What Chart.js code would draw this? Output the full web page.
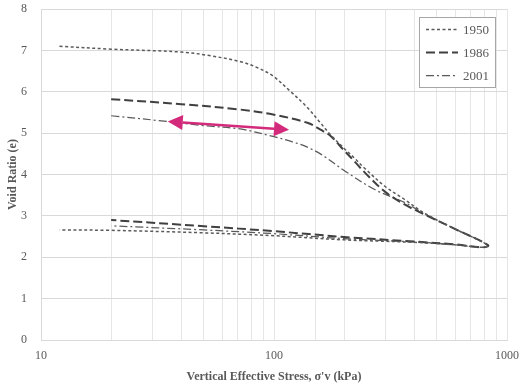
<!DOCTYPE html>
<html>
<head>
<meta charset="utf-8">
<script src="https://cdn.jsdelivr.net/npm/chart.js@4/dist/chart.umd.min.js"></script>
<style>
    html, body { margin: 0; padding: 0; background: #ffffff; }
    #wrap { width: 523px; height: 389px; }
</style>
</head>
<body>
<div id="wrap"><canvas id="voidChart" width="523" height="389"></canvas></div>
<script>
// Series labels
const seriesNames = ['1950', '1986', '2001'];

// Loading then unloading, stress in kPa
const stress1950 = [12, 20, 40, 52, 71.5, 85, 99, 117, 139, 157, 175, 200, 223, 246, 300, 365, 444, 600, 830, 790, 600, 400, 200, 100, 50, 20, 12];
const void1950 = [7.10, 7.03, 6.96, 6.88, 6.73, 6.58, 6.38, 6.02, 5.62, 5.27, 4.96, 4.63, 4.38, 4.14, 3.71, 3.39, 3.06, 2.68, 2.29, 2.24, 2.30, 2.36, 2.42, 2.52, 2.59, 2.65, 2.66];

const stress1986 = [20, 40, 71.5, 99, 139, 160, 175, 200, 223, 246, 300, 365, 444, 600, 830, 790, 600, 400, 200, 100, 50, 20];
const void1986 = [5.82, 5.70, 5.57, 5.45, 5.25, 5.07, 4.93, 4.58, 4.30, 4.04, 3.58, 3.27, 3.03, 2.68, 2.29, 2.24, 2.31, 2.38, 2.49, 2.63, 2.75, 2.90];

const stress2001 = [20, 35, 50, 71.5, 99, 120, 139, 160, 202, 272, 365, 444, 600, 830, 790, 600, 400, 200, 100, 50, 20];
const void2001 = [5.42, 5.28, 5.18, 5.10, 4.92, 4.79, 4.66, 4.48, 4.08, 3.63, 3.32, 3.04, 2.68, 2.29, 2.24, 2.30, 2.37, 2.45, 2.57, 2.66, 2.76];

// Arrow annotation ends (kPa, e)
const arrowStress = [35, 116];
const arrowVoid = [5.28, 5.08];

const serif = "'Liberation Serif', 'DejaVu Serif', serif";
const textGray = '#595959';

function toPoints(xs, ys) {
    return xs.map((x, i) => ({ x: x, y: ys[i] }));
}

// Legend in a box inside the plot
const boxLegend = {
    id: 'boxLegend',
    afterDraw(chart) {
        const ctx = chart.ctx;
        ctx.save();
        ctx.fillStyle = '#ffffff';
        ctx.fillRect(419, 17, 76, 70);
        ctx.strokeStyle = '#a6a6a6';
        ctx.lineWidth = 1;
        ctx.strokeRect(419.5, 17.5, 76, 70);
        chart.data.datasets.forEach((ds, i) => {
            const y = 29.5 + i * 23;
            ctx.beginPath();
            ctx.setLineDash(ds.borderDash);
            ctx.strokeStyle = ds.borderColor;
            ctx.lineWidth = ds.borderWidth;
            ctx.moveTo(426, y);
            ctx.lineTo(458, y);
            ctx.stroke();
            ctx.setLineDash([]);
            ctx.fillStyle = textGray;
            ctx.font = '13px ' + serif;
            ctx.textBaseline = 'middle';
            ctx.fillText(ds.label, 463, y + 1);
        });
        ctx.restore();
    }
};

// Double headed magenta arrow
const arrowPlugin = {
    id: 'arrowPlugin',
    afterDatasetsDraw(chart) {
        const ctx = chart.ctx;
        const xs = chart.scales.x, ys = chart.scales.y;
        const x1 = xs.getPixelForValue(arrowStress[0]), y1 = ys.getPixelForValue(arrowVoid[0]);
        const x2 = xs.getPixelForValue(arrowStress[1]), y2 = ys.getPixelForValue(arrowVoid[1]);
        const ang = Math.atan2(y2 - y1, x2 - x1);
        const headLen = 15, headHalf = 7.5;
        ctx.save();
        ctx.strokeStyle = '#d42a7b';
        ctx.fillStyle = '#d42a7b';
        ctx.lineWidth = 2.5;
        ctx.beginPath();
        ctx.moveTo(x1 + Math.cos(ang) * headLen, y1 + Math.sin(ang) * headLen);
        ctx.lineTo(x2 - Math.cos(ang) * headLen, y2 - Math.sin(ang) * headLen);
        ctx.stroke();
        [[x1, y1, ang], [x2, y2, ang + Math.PI]].forEach(([tx, ty, a]) => {
            const bx = tx + Math.cos(a) * headLen, by = ty + Math.sin(a) * headLen;
            ctx.beginPath();
            ctx.moveTo(tx, ty);
            ctx.lineTo(bx - Math.sin(a) * headHalf, by + Math.cos(a) * headHalf);
            ctx.lineTo(bx + Math.sin(a) * headHalf, by - Math.cos(a) * headHalf);
            ctx.closePath();
            ctx.fill();
        });
        ctx.restore();
    }
};

function initializeVoidChart() {
    const ctx = document.getElementById('voidChart');
    if (!ctx) return;

    return new Chart(ctx.getContext('2d'), {
        type: 'scatter',
        data: {
            datasets: [{
                label: seriesNames[0],
                data: toPoints(stress1950, void1950),
                borderColor: '#5a5a5a',
                borderWidth: 1.5,
                borderDash: [3, 2.5]
            }, {
                label: seriesNames[1],
                data: toPoints(stress1986, void1986),
                borderColor: '#404040',
                borderWidth: 2,
                borderDash: [9, 4]
            }, {
                label: seriesNames[2],
                data: toPoints(stress2001, void2001),
                borderColor: '#5a5a5a',
                borderWidth: 1.25,
                borderDash: [8, 3, 2, 3]
            }]
        },
        options: {
            responsive: false,
            animation: false,
            showLine: true,
            elements: {
                point: { radius: 0, hoverRadius: 0 },
                line: { tension: 0.35, fill: false }
            },
            layout: {
                padding: { top: 9, right: 16, left: 0, bottom: 0 }
            },
            plugins: {
                legend: { display: false },
                tooltip: { enabled: false }
            },
            scales: {
                x: {
                    type: 'logarithmic',
                    min: 10,
                    max: 1000,
                    afterFit: (scale) => {
                        scale.height = 49;
                        scale.paddingLeft = 0;
                        scale.paddingRight = 0;
                    },
                    grid: { color: '#e6e6e6', drawTicks: false },
                    border: { color: '#d9d9d9' },
                    ticks: {
                        autoSkip: false,
                        maxRotation: 0,
                        padding: 9,
                        color: textGray,
                        font: { family: serif, size: 12 },
                        callback: function(value) {
                            const p = Math.log10(value);
                            return Math.abs(p - Math.round(p)) < 1e-9 ? String(value) : '';
                        }
                    },
                    title: {
                        display: true,
                        text: "Vertical Effective Stress, σ'v (kPa)",
                        color: textGray,
                        font: { family: serif, size: 12, weight: 'bold' },
                        padding: { top: 0, bottom: 5 }
                    }
                },
                y: {
                    min: 0,
                    max: 8,
                    afterFit: (scale) => {
                        scale.width = 41;
                        scale.paddingTop = 0;
                        scale.paddingBottom = 0;
                    },
                    grid: { color: '#d9d9d9', drawTicks: false },
                    border: { color: '#d9d9d9' },
                    ticks: {
                        stepSize: 1,
                        padding: 14,
                        color: textGray,
                        font: { family: serif, size: 12 }
                    },
                    title: {
                        display: true,
                        text: 'Void Ratio (e)',
                        color: textGray,
                        font: { family: serif, size: 12, weight: 'bold' },
                        padding: { top: 6, bottom: 0 }
                    }
                }
            }
        },
        plugins: [arrowPlugin, boxLegend]
    });
}

initializeVoidChart();
</script>
</body>
</html>
